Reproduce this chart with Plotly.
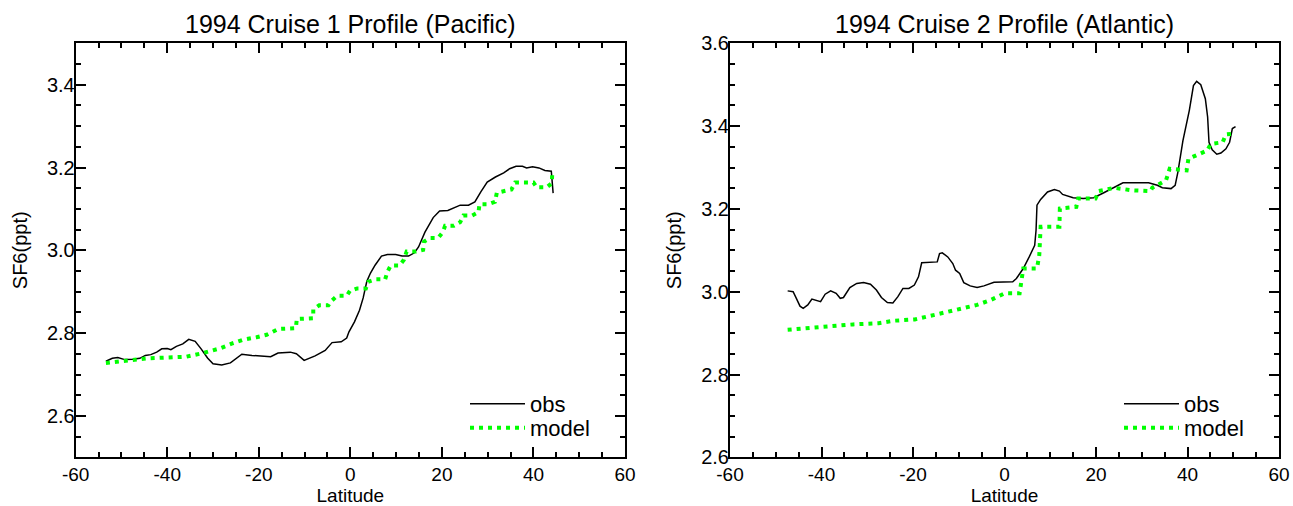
import plotly.graph_objects as go

# ---------------- data ----------------
# Cruise 1 (Pacific) observations
obs1_lat = [-53.4, -52.0, -50.8, -49.3, -47.5, -46.0, -44.8, -43.6, -42.3, -41.2,
            -40.0, -39.2, -38.0, -36.6, -35.3, -33.9, -32.6, -31.2, -30.0, -28.1,
            -26.2, -24.9, -23.7, -21.5, -19.5, -17.4, -15.8, -13.1, -11.8, -10.1,
            -7.7, -5.5, -4.0, -2.0, -0.8, -0.3, 0.9, 2.0, 2.8, 3.6,
            4.4, 5.4, 6.8, 8.1, 9.9, 11.3, 12.7, 14.0, 14.9, 16.3,
            18.1, 19.5, 21.3, 22.6, 24.0, 25.8, 27.2, 28.5, 29.9, 31.7,
            33.5, 34.8, 36.2, 37.6, 38.5, 39.8, 41.2, 42.5, 43.9, 44.3]
obs1_sf6 = [2.732, 2.739, 2.741, 2.736, 2.737, 2.739, 2.746, 2.748, 2.754, 2.762,
            2.763, 2.760, 2.768, 2.774, 2.785, 2.780, 2.762, 2.740, 2.726, 2.723,
            2.728, 2.738, 2.749, 2.746, 2.745, 2.743, 2.752, 2.754, 2.750, 2.734,
            2.745, 2.758, 2.777, 2.779, 2.788, 2.803, 2.827, 2.855, 2.885, 2.925,
            2.945, 2.964, 2.986, 2.990, 2.990, 2.986, 2.986, 2.994, 3.008, 3.044,
            3.079, 3.095, 3.096, 3.103, 3.109, 3.109, 3.117, 3.141, 3.165, 3.177,
            3.187, 3.197, 3.203, 3.203, 3.199, 3.202, 3.199, 3.193, 3.191, 3.138]

# Cruise 1 (Pacific) model
mod1_lat = [-53.4, -49.0, -44.5, -40.0, -35.8, -32.1, -28.5, -25.8, -23.4, -20.5,
            -18.3, -15.7, -11.9, -11.7, -8.1, -8.1, -6.8, -4.8, -4.1, -2.9,
            -0.8, -0.1, 1.5, 3.4, 3.9, 5.6, 7.6, 8.1, 8.8, 10.7,
            11.7, 12.3, 14.3, 15.9, 16.1, 17.4, 19.2, 20.2, 20.7, 22.6,
            24.0, 24.7, 26.6, 28.0, 28.2, 30.1, 31.6, 32.0, 35.2, 36.0,
            40.0, 40.7, 42.9, 44.0, 44.1]
mod1_sf6 = [2.728, 2.734, 2.739, 2.741, 2.743, 2.752, 2.763, 2.775, 2.784, 2.790,
            2.796, 2.810, 2.812, 2.834, 2.836, 2.857, 2.867, 2.867, 2.878, 2.890,
            2.890, 2.902, 2.908, 2.908, 2.924, 2.930, 2.930, 2.948, 2.963, 2.963,
            2.977, 2.997, 2.997, 3.001, 3.021, 3.030, 3.030, 3.044, 3.059, 3.059,
            3.068, 3.084, 3.084, 3.092, 3.111, 3.111, 3.117, 3.139, 3.147, 3.164,
            3.164, 3.152, 3.152, 3.162, 3.184]

# Cruise 2 (Atlantic) observations
obs2_lat = [-47.4, -46.2, -45.5, -44.7, -44.0, -43.0, -42.1, -41.2, -40.2, -39.2,
            -38.0, -36.8, -35.9, -35.2, -33.8, -32.3, -30.8, -29.3, -28.0, -26.9,
            -25.6, -24.4, -23.3, -22.2, -20.9, -19.7, -18.8, -18.1, -16.2, -14.7,
            -14.2, -13.6, -12.4, -11.3, -10.7, -9.8, -8.9, -7.5, -6.0, -4.5,
            -2.3, 1.8, 2.6, 4.1, 5.4, 6.6, 6.9, 7.1, 7.9, 9.4,
            10.9, 12.0, 12.7, 15.0, 17.2, 19.5, 21.7, 24.0, 25.9, 28.5,
            31.5, 33.4, 34.5, 36.4, 37.3, 37.9, 39.0, 40.4, 41.3, 42.0,
            42.9, 43.9, 44.4, 44.7, 45.4, 46.4, 47.3, 48.4, 49.2, 49.8, 50.5]
obs2_sf6 = [3.002, 3.000, 2.984, 2.965, 2.960, 2.968, 2.982, 2.980, 2.976, 2.994,
            3.002, 2.996, 2.984, 2.986, 3.010, 3.020, 3.022, 3.018, 3.004, 2.986,
            2.974, 2.973, 2.988, 3.008, 3.008, 3.016, 3.036, 3.070, 3.071, 3.072,
            3.092, 3.094, 3.084, 3.068, 3.052, 3.044, 3.022, 3.014, 3.010, 3.014,
            3.023, 3.024, 3.032, 3.056, 3.084, 3.112, 3.149, 3.209, 3.223, 3.241,
            3.247, 3.243, 3.235, 3.227, 3.225, 3.227, 3.239, 3.253, 3.263, 3.263,
            3.263, 3.257, 3.251, 3.249, 3.257, 3.289, 3.365, 3.438, 3.498, 3.508,
            3.500, 3.466, 3.422, 3.361, 3.343, 3.332, 3.335, 3.345, 3.361, 3.394, 3.399]

# Cruise 2 (Atlantic) model
mod2_lat = [-47.4, -43.6, -38.3, -33.1, -27.5, -24.1, -19.6, -16.2, -13.2, -9.8,
            -6.0, -3.0, 0.0, 3.3, 3.9, 4.1, 7.1, 7.6, 7.9, 12.0,
            12.1, 15.7, 16.1, 19.9, 20.6, 24.0, 27.8, 31.9, 32.3, 35.3,
            36.1, 39.8, 40.2, 42.0, 44.3, 45.1, 47.7, 48.4, 50.5]
mod2_sf6 = [2.908, 2.912, 2.917, 2.921, 2.924, 2.930, 2.933, 2.942, 2.949, 2.957,
            2.968, 2.980, 2.996, 2.996, 3.044, 3.056, 3.056, 3.088, 3.157, 3.157,
            3.201, 3.205, 3.225, 3.225, 3.243, 3.251, 3.245, 3.243, 3.251, 3.269,
            3.297, 3.293, 3.321, 3.329, 3.341, 3.357, 3.361, 3.380, 3.382]

titles = ["1994 Cruise 1 Profile (Pacific)", "1994 Cruise 2 Profile (Atlantic)"]
x_label = "Latitude"
y_label = "SF6(ppt)"
names = ["obs", "model"]

x_ticks = [-60, -40, -20, 0, 20, 40, 60]
x_ticklabels = ["-60", "-40", "-20", "0", "20", "40", "60"]
y1_ticks = [2.6, 2.8, 3.0, 3.2, 3.4]
y1_ticklabels = ["2.6", "2.8", "3.0", "3.2", "3.4"]
y2_ticks = [2.6, 2.8, 3.0, 3.2, 3.4, 3.6]
y2_ticklabels = ["2.6", "2.8", "3.0", "3.2", "3.4", "3.6"]

# ---------------- figure ----------------
FONT = "Liberation Sans, Arial, Helvetica, sans-serif"
GREEN = "#00ff00"
W, H = 1293, 506

fig = go.Figure()
fig.add_trace(go.Scatter(x=obs1_lat, y=obs1_sf6, mode="lines", name=names[0],
                         line=dict(color="black", width=1.5), xaxis="x", yaxis="y",
                         legend="legend"))
fig.add_trace(go.Scatter(x=mod1_lat, y=mod1_sf6, mode="lines", name=names[1],
                         line=dict(color=GREEN, width=4, dash="4px,5px"),
                         xaxis="x", yaxis="y", legend="legend2"))
fig.add_trace(go.Scatter(x=obs2_lat, y=obs2_sf6, mode="lines", name=names[0],
                         line=dict(color="black", width=1.5), xaxis="x2", yaxis="y2",
                         legend="legend3"))
fig.add_trace(go.Scatter(x=mod2_lat, y=mod2_sf6, mode="lines", name=names[1],
                         line=dict(color=GREEN, width=4, dash="4px,5px"),
                         xaxis="x2", yaxis="y2", legend="legend4"))

ydom = [48.7 / H, 462.7 / H]
xdom1 = [75.7 / W, 625.0 / W]
xdom2 = [730.0 / W, 1279.0 / W]


def xax(dom, anchor):
    return dict(domain=dom, anchor=anchor, range=[-60, 60], automargin=False,
                tickmode="array", tickvals=x_ticks, ticktext=x_ticklabels,
                ticks="inside", ticklen=10, tickwidth=2, tickcolor="black",
                showline=True, linewidth=2, linecolor="black", mirror="allticks",
                showgrid=False, zeroline=False, ticklabelstandoff=-1,
                minor=dict(dtick=5, tick0=0, ticks="inside", ticklen=5, tickwidth=1.5,
                           tickcolor="black", showgrid=False),
                tickfont=dict(family=FONT, size=19, color="black"),
                title=dict(text=x_label, font=dict(family=FONT, size=19, color="black"),
                           standoff=6))


def yax(dom, anchor, rng, tv, tt):
    return dict(domain=dom, anchor=anchor, range=rng, automargin=False,
                tickmode="array", tickvals=tv, ticktext=tt,
                ticks="inside", ticklen=10, tickwidth=2, tickcolor="black",
                showline=True, linewidth=2, linecolor="black", mirror="allticks",
                showgrid=False, zeroline=False, ticklabelstandoff=-5,
                minor=dict(dtick=0.05, tick0=2.5, ticks="inside", ticklen=5, tickwidth=1.5,
                           tickcolor="black", showgrid=False),
                tickfont=dict(family=FONT, size=20, color="black"),
                title=dict(text=y_label, font=dict(family=FONT, size=20, color="black"),
                           standoff=14))


def leg(xpx, ypx):
    return dict(x=xpx / W, y=1 - ypx / H, xanchor="left", yanchor="middle",
                xref="paper", yref="paper", bgcolor="rgba(0,0,0,0)", borderwidth=0,
                itemwidth=55, font=dict(family=FONT, size=22, color="black"))


fig.update_layout(
    width=W, height=H,
    margin=dict(l=0, r=0, t=0, b=0, autoexpand=False),
    paper_bgcolor="white", plot_bgcolor="white",
    font=dict(family=FONT, color="black"),
    xaxis=xax(xdom1, "y"),
    yaxis=yax(ydom, "x", [2.5, 3.5], y1_ticks, y1_ticklabels),
    xaxis2=xax(xdom2, "y2"),
    yaxis2=yax(ydom, "x2", [2.6, 3.6], y2_ticks, y2_ticklabels),
    showlegend=True,
    legend=leg(465, 404),
    legend2=leg(465, 428),
    legend3=leg(1119, 404),
    legend4=leg(1119, 428),
    annotations=[
        dict(text=titles[0], x=sum(xdom1) / 2, y=1 - 24 / H, xref="paper", yref="paper",
             xanchor="center", yanchor="middle", showarrow=False,
             font=dict(family=FONT, size=25, color="black")),
        dict(text=titles[1], x=sum(xdom2) / 2, y=1 - 24 / H, xref="paper", yref="paper",
             xanchor="center", yanchor="middle", showarrow=False,
             font=dict(family=FONT, size=25, color="black")),
    ],
)

fig.write_html("out.html")
